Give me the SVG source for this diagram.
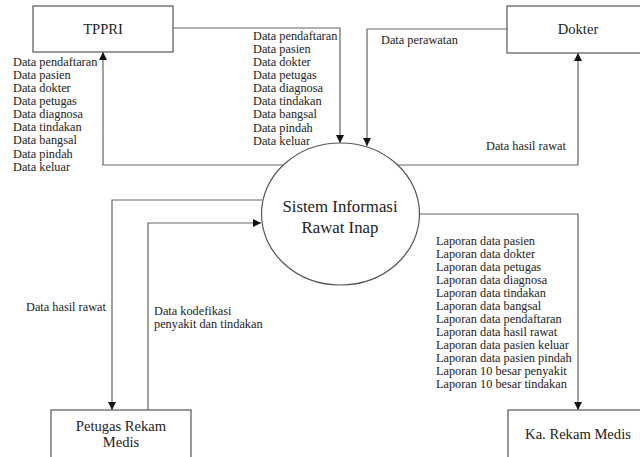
<svg xmlns="http://www.w3.org/2000/svg" width="640" height="457" viewBox="0 0 640 457" font-family="'Liberation Serif', 'DejaVu Serif', serif">
<style>
.box{fill:#fff;stroke:#555;stroke-width:1.2}
.node{font-size:14.6px;fill:#222;text-anchor:middle}
.big{font-size:16.8px}
.lbl{font-size:12.3px;fill:#222}
.conn{fill:none;stroke:#666;stroke-width:1.2}
</style>
<defs>
<marker id="arr" markerUnits="userSpaceOnUse" markerWidth="9" markerHeight="8" refX="8" refY="4" orient="auto">
<path d="M0,0 L8,4 L0,8 z" fill="#111"/>
</marker>
</defs>
<rect width="640" height="457" fill="#fff"/>
<g id="connectors">
<path class="conn" d="M173,28 H340 V143" marker-end="url(#arr)"/>
<path class="conn" d="M283,165 H103 V52" marker-end="url(#arr)"/>
<path class="conn" d="M507,29 H367 V146" marker-end="url(#arr)"/>
<path class="conn" d="M397,165 H578 V53" marker-end="url(#arr)"/>
<path class="conn" d="M262,200 H112 V410" marker-end="url(#arr)"/>
<path class="conn" d="M148,410 V223 H261" marker-end="url(#arr)"/>
<path class="conn" d="M420,214 H578 V410" marker-end="url(#arr)"/>
</g>
<g id="tppri">
<rect class="box" x="33" y="6" width="140" height="46"/>
<text class="node" x="103" y="34">TPPRI</text>
</g>
<g id="dokter">
<rect class="box" x="507" y="6" width="140" height="47"/>
<text class="node" x="578" y="34">Dokter</text>
</g>
<g id="sistem">
<ellipse class="box" cx="340.5" cy="214" rx="79" ry="71"/>
<text class="node big" x="340" y="212">Sistem Informasi</text>
<text class="node big" x="340" y="233">Rawat Inap</text>
</g>
<g id="petugas">
<rect class="box" x="51" y="410" width="140" height="50"/>
<text class="node" x="121" y="431">Petugas Rekam</text>
<text class="node" x="121" y="447">Medis</text>
</g>
<g id="karm">
<rect class="box" x="508" y="410" width="140" height="50"/>
<text class="node" x="578" y="439">Ka. Rekam Medis</text>
</g>
<g id="labels">
<text class="lbl" x="13" y="66">Data pendaftaran</text>
<text class="lbl" x="13" y="79">Data pasien</text>
<text class="lbl" x="13" y="92">Data dokter</text>
<text class="lbl" x="13" y="105">Data petugas</text>
<text class="lbl" x="13" y="118">Data diagnosa</text>
<text class="lbl" x="13" y="131">Data tindakan</text>
<text class="lbl" x="13" y="144">Data bangsal</text>
<text class="lbl" x="13" y="158">Data pindah</text>
<text class="lbl" x="13" y="171">Data keluar</text>
<text class="lbl" x="253" y="40">Data pendaftaran</text>
<text class="lbl" x="253" y="53">Data pasien</text>
<text class="lbl" x="253" y="66">Data dokter</text>
<text class="lbl" x="253" y="79">Data petugas</text>
<text class="lbl" x="253" y="92">Data diagnosa</text>
<text class="lbl" x="253" y="105">Data tindakan</text>
<text class="lbl" x="253" y="118">Data bangsal</text>
<text class="lbl" x="253" y="132">Data pindah</text>
<text class="lbl" x="253" y="145">Data keluar</text>
<text class="lbl" x="381" y="44">Data perawatan</text>
<text class="lbl" x="486" y="150">Data hasil rawat</text>
<text class="lbl" x="26" y="311">Data hasil rawat</text>
<text class="lbl" x="154" y="315">Data kodefikasi</text>
<text class="lbl" x="154" y="328">penyakit dan tindakan</text>
<text class="lbl" x="436" y="245">Laporan data pasien</text>
<text class="lbl" x="436" y="258">Laporan data dokter</text>
<text class="lbl" x="436" y="271">Laporan data petugas</text>
<text class="lbl" x="436" y="284">Laporan data diagnosa</text>
<text class="lbl" x="436" y="297">Laporan data tindakan</text>
<text class="lbl" x="436" y="310">Laporan data bangsal</text>
<text class="lbl" x="436" y="323">Laporan data pendaftaran</text>
<text class="lbl" x="436" y="336">Laporan data hasil rawat</text>
<text class="lbl" x="436" y="349">Laporan data pasien keluar</text>
<text class="lbl" x="436" y="362">Laporan data pasien pindah</text>
<text class="lbl" x="436" y="375">Laporan 10 besar penyakit</text>
<text class="lbl" x="436" y="388">Laporan 10 besar tindakan</text>
</g>
</svg>
